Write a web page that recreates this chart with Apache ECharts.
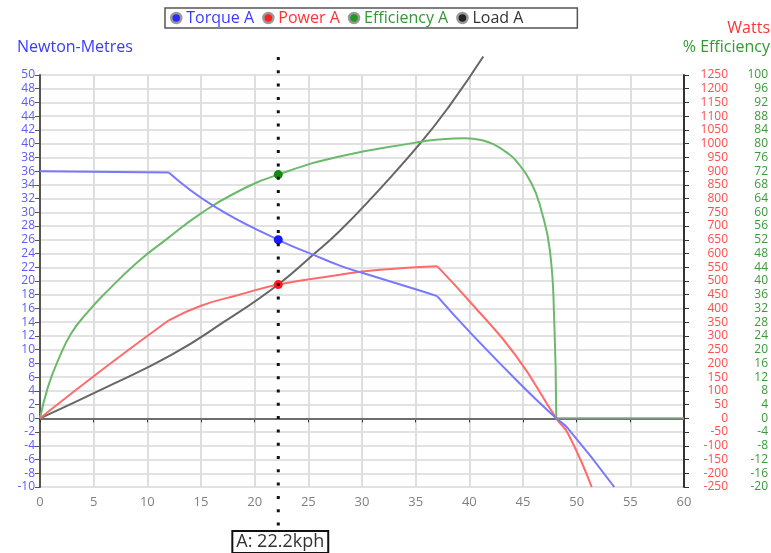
<!DOCTYPE html>
<html><head><meta charset="utf-8">
<script src="https://cdn.jsdelivr.net/npm/echarts@6/dist/echarts.min.js"></script>
<style>html,body{margin:0;padding:0;background:#fff}#c{width:771px;height:553px}</style>
</head><body><div id="c"></div>
<script>
// ---- axes ----
const speedAxis = {min: 0, max: 60, interval: 5};
const nmAxis = {min: -10, max: 50, interval: 2};
const wattsAxis = {min: -250, max: 1250, interval: 50};
const effAxis = {min: -20, max: 100, interval: 4};

// ---- series data (speed kph, value) ----
const torqueKph = [0, 12, 16.2, 22.2, 25.5, 28, 30, 35, 37, 40.2, 45, 48.1, 49.2, 53.5];
const torqueNm  = [36, 35.8, 30.9, 26, 23.8, 22.2, 21.2, 18.8, 17.8, 12.3, 4.6, 0, -1.5, -10];
const torqueCorners = [1, 8];

const powerKph = [0, 6, 12, 15, 18.4, 22.2, 27.8, 30, 35, 37, 40.2, 44.3, 48.1, 49.2, 51.4];
const powerW   = [0, 183, 357, 410, 448, 487, 522, 535, 550, 554, 418, 230, 0, -56, -250];
const powerCorners = [2, 9];

const effKph = [0, 0.74, 1.7, 2.9, 4.4, 6, 9.1, 11.8, 15, 18.4, 22.2, 27.8, 35, 37.1, 39.6, 41.2, 42.4, 43.4, 44.3, 45.8, 46.7, 47.5, 47.9, 48.1, 60];
const effPct = [0, 9.1, 17, 24.7, 30.8, 36.2, 45.5, 52.2, 59.7, 66, 71, 76.2, 80.3, 81.2, 81.6, 81, 79.6, 77.6, 75.2, 68.4, 60.6, 49, 29.5, 0, 0];
const effCorners = [23];

const loadKph = [0, 6, 12.2, 17.1, 22.2, 25.5, 27.8, 30.9, 35.4, 38.1, 41.3];
const loadNm  = [0, 4.4, 9.2, 14, 19.5, 23.9, 27.1, 32.1, 40, 45.4, 52.7];
const loadCorners = [];

// ---- cursor ----
const cursorKph = 22.2;
const cursorTorque = 26;
const cursorPower = 487;
const cursorEff = 71;

const FONT = '"Open Sans", sans-serif';

function segments(xs, ys, corners) {
  const cuts = [0].concat(corners, [xs.length - 1]);
  const segs = [];
  for (let k = 0; k < cuts.length - 1; k++) {
    const seg = [];
    for (let i = cuts[k]; i <= cuts[k + 1]; i++) seg.push([xs[i], ys[i]]);
    segs.push(seg);
  }
  return segs;
}

function dot(coord, color) {
  return {symbol: 'circle', symbolSize: 9, silent: true, label: {show: false},
          itemStyle: {color: color}, data: [{coord: coord}]};
}

function lineSeries(name, yAxisIndex, xs, ys, corners, color, z, extra, clip) {
  return segments(xs, ys, corners).map((seg, i) => Object.assign({
    name: name, type: 'line', yAxisIndex: yAxisIndex, data: seg, symbol: 'none',
    smooth: seg.length > 2 ? 0.5 : false, clip: clip !== false,
    lineStyle: {color: color, width: 2}, itemStyle: {color: color}, z: z
  }, i === 0 ? extra : {}));
}

const chart = echarts.init(document.getElementById('c'), null, {renderer: 'canvas'});

const titleStyle = (c) => ({color: c, fontSize: 16, fontWeight: 'normal', fontFamily: FONT});

const option = {
  animation: false,
  backgroundColor: '#fff',
  textStyle: {fontFamily: FONT},
  title: [
    {text: 'Newton-Metres', left: 17, top: 39, padding: 0, textStyle: titleStyle('#3a3aff')},
    {text: 'Watts', right: 1, top: 20, padding: 0, textStyle: titleStyle('#ff3333')},
    {text: '% Efficiency', right: 1, top: 39, padding: 0, textStyle: titleStyle('#339933')}
  ],
  legend: {
    left: 165, top: 8, padding: [2, 54, 2, 5], itemGap: 8, itemWidth: 10, itemHeight: 10,
    icon: 'circle', borderColor: '#555', borderWidth: 1.5, backgroundColor: '#fff',
    textStyle: {fontSize: 16, fontFamily: FONT},
    data: [
      {name: 'Torque A', itemStyle: {color: '#2b2bff', borderColor: '#999', borderWidth: 2.5}, textStyle: {color: '#3b3bff'}},
      {name: 'Power A', itemStyle: {color: '#ff2020', borderColor: '#999', borderWidth: 2.5}, textStyle: {color: '#ff3333'}},
      {name: 'Efficiency A', itemStyle: {color: '#1f9a1f', borderColor: '#999', borderWidth: 2.5}, textStyle: {color: '#339933'}},
      {name: 'Load A', itemStyle: {color: '#222', borderColor: '#999', borderWidth: 2.5}, textStyle: {color: '#333'}}
    ]
  },
  grid: {left: 40, right: 85, top: 75, bottom: 66, containLabel: false},
  xAxis: {
    type: 'value', min: speedAxis.min, max: speedAxis.max, interval: speedAxis.interval,
    axisLine: {lineStyle: {color: '#111', width: 2}},
    axisTick: {show: true, length: 4, lineStyle: {color: '#333'}},
    axisLabel: {color: '#808080', fontSize: 13, margin: 9, fontFamily: FONT},
    splitLine: {show: true, lineStyle: {color: '#dedede', width: 2}}
  },
  yAxis: [
    {
      type: 'value', position: 'left', min: nmAxis.min, max: nmAxis.max, interval: nmAxis.interval,
      axisLine: {show: true, onZero: false, lineStyle: {color: '#555', width: 2}},
      axisTick: {show: true, length: 5, lineStyle: {color: '#555'}},
      axisLabel: {color: '#5a5aff', fontSize: 12, margin: 5, fontFamily: FONT},
      splitLine: {show: true, lineStyle: {color: '#e2e2e2', width: 2}}
    },
    {
      type: 'value', position: 'right', min: wattsAxis.min, max: wattsAxis.max, interval: wattsAxis.interval,
      axisLine: {show: true, onZero: false, lineStyle: {color: '#333', width: 2}},
      axisTick: {show: true, length: 5, lineStyle: {color: '#333'}},
      axisLabel: {color: '#ff4d4d', fontSize: 12, margin: 44, align: 'right', fontFamily: FONT,
                  formatter: (v) => String(v)},
      splitLine: {show: false}
    },
    {
      type: 'value', position: 'right', min: effAxis.min, max: effAxis.max, interval: effAxis.interval,
      axisLine: {show: false}, axisTick: {show: false},
      axisLabel: {color: '#3a9a3a', fontSize: 12, margin: 84, align: 'right', fontFamily: FONT,
                  formatter: (v) => String(v)},
      splitLine: {show: false}
    }
  ],
  series: [].concat(
    lineSeries('Load A', 0, loadKph, loadNm, loadCorners, '#666', 2, {
      markLine: {silent: true, symbol: 'none', label: {show: false}, animation: false,
                 lineStyle: {color: '#8c8c8c', width: 1.5, type: 'solid'}, data: [{yAxis: 0}]}
    }, false),
    lineSeries('Efficiency A', 2, effKph, effPct, effCorners, '#6cb96c', 3, {
      markPoint: dot([cursorKph, cursorEff], '#138a13')
    }),
    lineSeries('Power A', 1, powerKph, powerW, powerCorners, '#ff6a6a', 3, {
      markPoint: dot([cursorKph, cursorPower], '#ff1a1a')
    }),
    lineSeries('Torque A', 0, torqueKph, torqueNm, torqueCorners, '#7878ff', 4, {
      markPoint: dot([cursorKph, cursorTorque], '#1a1aff')
    })
  )
};
chart.setOption(option);

// cursor line + label positioned via the chart's own scales
const cx = chart.convertToPixel({xAxisIndex: 0}, cursorKph);
const topY = chart.convertToPixel({yAxisIndex: 0}, nmAxis.max) - 18;
const botY = chart.convertToPixel({yAxisIndex: 0}, nmAxis.min) + 45;
chart.setOption({
  graphic: [
    {type: 'line', z: 100, silent: true,
     shape: {x1: cx, y1: topY, x2: cx, y2: botY},
     style: {stroke: '#111', lineWidth: 3, lineDash: [3, 10.3]}},
    {type: 'text', z: 101, silent: true, x: cx + 2, y: botY,
     style: {text: 'A: ' + cursorKph + 'kph', align: 'center', verticalAlign: 'top',
             font: '18px "Open Sans", sans-serif', fill: '#333',
             backgroundColor: '#fff', borderColor: '#111', borderWidth: 2, padding: [1, 3, 1, 3]}}
  ]
});
</script></body></html>
